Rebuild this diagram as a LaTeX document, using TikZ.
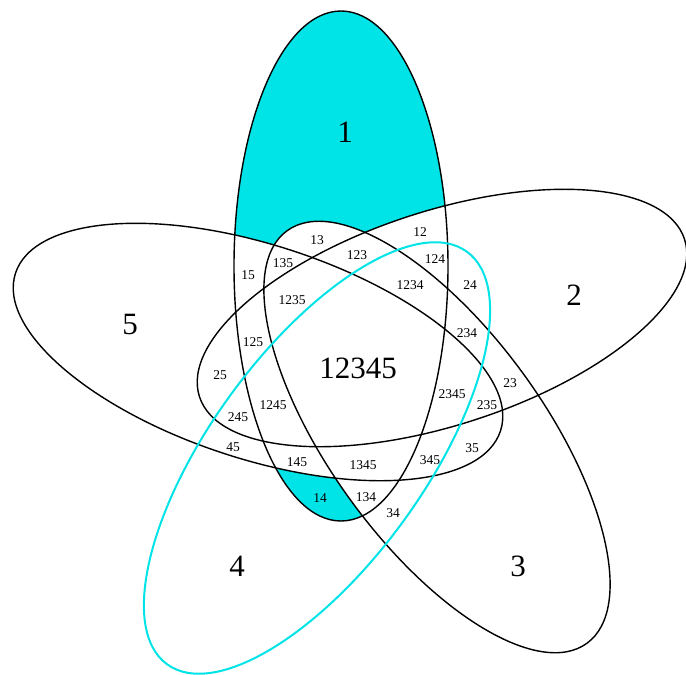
\documentclass[tikz,border=0pt]{standalone}
\usepackage{fontspec}
\setmainfont{Liberation Serif}
\definecolor{vcyan}{RGB}{0,228,232}
\begin{document}
\begin{tikzpicture}[x=1pt,y=-1pt,
  outline/.style={draw=black,line width=1.4pt},
  cyanline/.style={draw=vcyan,line width=2pt},
  big/.style={font=\fontsize{31}{31}\selectfont,inner sep=0pt},
  small/.style={font=\fontsize{13.5}{13.5}\selectfont,inner sep=0pt}]
\useasboundingbox (0,0) rectangle (686,675);
\fill[white] (0,0) rectangle (686,675);
\coordinate (c1) at (341,266);
\coordinate (c2) at (442,318);
\coordinate (c3) at (437,437);
\coordinate (c4) at (317,458);
\coordinate (c5) at (258,352);
% shaded region: 1 only, and 14
\begin{scope}
  \clip[rotate around={90:(c1)}] (c1) ellipse [x radius=255pt, y radius=107pt];
  \fill[vcyan] (0,0) rectangle (686,675);
  \fill[white, rotate around={18:(c2)}] (c2) ellipse [x radius=255pt, y radius=107pt];
  \fill[white, rotate around={-54:(c3)}] (c3) ellipse [x radius=255pt, y radius=107pt];
  \fill[white, rotate around={-18:(c5)}] (c5) ellipse [x radius=255pt, y radius=107pt];
\end{scope}
% outlines
\draw[outline, rotate around={90:(c1)}] (c1) ellipse [x radius=255pt, y radius=107pt];
\draw[outline, rotate around={18:(c2)}] (c2) ellipse [x radius=255pt, y radius=107pt];
\draw[outline, rotate around={-54:(c3)}] (c3) ellipse [x radius=255pt, y radius=107pt];
\draw[outline, rotate around={-18:(c5)}] (c5) ellipse [x radius=255pt, y radius=107pt];
\draw[cyanline, rotate around={54:(c4)}] (c4) ellipse [x radius=255pt, y radius=107pt];
% big labels
\node[big] (l1) at (345,132) {1};
\node[big] (l2) at (574,295) {2};
\node[big] (l3) at (518,566) {3};
\node[big] (l4) at (237,566) {4};
\node[big] (l5) at (130,324) {5};
\node[big] (l12345) at (358,368) {12345};
% small labels
\node[small] (r13) at (317,240) {13};
\node[small] (r12) at (420,232) {12};
\node[small] (r123) at (357,255) {123};
\node[small] (r135) at (283,263) {135};
\node[small] (r124) at (435,259) {124};
\node[small] (r15) at (248,275) {15};
\node[small] (r1234) at (410,285) {1234};
\node[small] (r24) at (470,285) {24};
\node[small] (r1235) at (292,300) {1235};
\node[small] (r234) at (467,333) {234};
\node[small] (r125) at (253,342) {125};
\node[small] (r25) at (220,375) {25};
\node[small] (r23) at (510,383) {23};
\node[small] (r2345) at (452,394) {2345};
\node[small] (r235) at (487,405) {235};
\node[small] (r1245) at (273,405) {1245};
\node[small] (r245) at (238,417) {245};
\node[small] (r45) at (233,447) {45};
\node[small] (r35) at (472,448) {35};
\node[small] (r145) at (297,462) {145};
\node[small] (r1345) at (363,465) {1345};
\node[small] (r345) at (430,460) {345};
\node[small] (r14) at (320,498) {14};
\node[small] (r134) at (366,497) {134};
\node[small] (r34) at (393,513) {34};
\end{tikzpicture}
\end{document}
